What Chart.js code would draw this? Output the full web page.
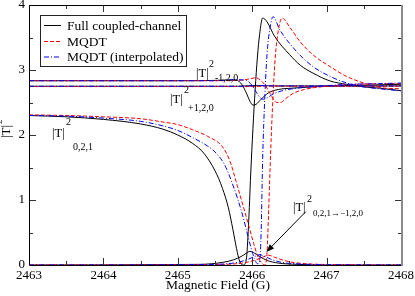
<!DOCTYPE html>
<html><head><meta charset="utf-8">
<script src="https://cdn.jsdelivr.net/npm/chart.js@4"></script>
<style>html,body{margin:0;padding:0;background:#fff}canvas{display:block}</style>
</head><body>
<canvas id="c" width="415" height="296"></canvas>
<script>
// ---- axis ticks ----
const xTicks = [2463, 2464, 2465, 2466, 2467, 2468];
const yTicks = [0, 1, 2, 3, 4];
const xTitle = "Magnetic Field (G)";
const legendLabels = ["Full coupled-channel", "MQDT", "MQDT (interpolated)"];

// ---- |T|^2_{0,2,1} ----
const fieldBlack021 = [2463, 2463.5, 2464, 2464.5, 2464.8, 2465.0, 2465.2, 2465.35, 2465.5, 2465.6, 2465.68, 2465.74, 2465.79, 2465.83, 2465.88, 2465.92, 2465.95, 2465.98, 2466.01, 2466.04, 2466.07, 2466.1, 2466.14, 2466.2, 2466.3, 2466.5, 2466.65, 2466.82, 2467.05, 2467.27, 2467.5, 2467.72, 2468];
const tBlack021     = [2.30, 2.28, 2.24, 2.17, 2.09, 2.00, 1.87, 1.72, 1.45, 1.18, 0.88, 0.55, 0.25, 0.06, 0.00, 0.08, 0.60, 1.40, 2.10, 2.70, 3.20, 3.55, 3.80, 3.74, 3.52, 3.24, 3.07, 2.95, 2.83, 2.78, 2.74, 2.72, 2.68];
const fieldRed021   = [2463, 2463.5, 2464, 2464.5, 2464.8, 2465.0, 2465.2, 2465.4, 2465.6, 2465.7, 2465.8, 2465.9, 2465.95, 2466.02, 2466.08, 2466.13, 2466.17, 2466.2, 2466.22, 2466.25, 2466.28, 2466.31, 2466.35, 2466.4, 2466.51, 2466.64, 2466.82, 2467.05, 2467.27, 2467.5, 2467.72, 2468];
const tRed021       = [2.31, 2.30, 2.28, 2.25, 2.20, 2.16, 2.08, 1.98, 1.82, 1.60, 1.22, 0.82, 0.62, 0.33, 0.12, 0.03, 0.00, 0.20, 0.80, 1.80, 2.60, 3.20, 3.60, 3.80, 3.65, 3.44, 3.23, 3.05, 2.90, 2.80, 2.73, 2.71];
const fieldBlue021  = [2463, 2463.5, 2464, 2464.5, 2464.8, 2465.0, 2465.2, 2465.4, 2465.5, 2465.63, 2465.75, 2465.85, 2465.92, 2465.98, 2466.03, 2466.07, 2466.1, 2466.12, 2466.14, 2466.17, 2466.2, 2466.24, 2466.28, 2466.37, 2466.6, 2466.82, 2467.05, 2467.27, 2467.5, 2467.72, 2468];
const tBlue021      = [2.30, 2.29, 2.26, 2.21, 2.14, 2.07, 1.96, 1.83, 1.74, 1.54, 1.20, 0.85, 0.55, 0.28, 0.10, 0.02, 0.05, 0.50, 1.60, 2.60, 3.25, 3.65, 3.82, 3.62, 3.28, 3.05, 2.90, 2.80, 2.74, 2.71, 2.68];

// ---- |T|^2_{-1,2,0} ----
const fieldBlackM120 = [2463, 2465.0, 2465.5, 2465.75, 2465.8, 2465.86, 2465.92, 2465.97, 2466.01, 2466.05, 2466.12, 2466.22, 2466.35, 2466.53, 2466.8, 2467.2, 2467.6, 2468];
const tBlackM120     = [2.835, 2.835, 2.84, 2.85, 2.84, 2.78, 2.65, 2.52, 2.46, 2.47, 2.55, 2.65, 2.70, 2.72, 2.74, 2.76, 2.77, 2.78];
const fieldRedM120   = [2463, 2465.6, 2465.9, 2466.05, 2466.15, 2466.22, 2466.28, 2466.33, 2466.38, 2466.45, 2466.55, 2466.7, 2467.0, 2467.4, 2467.8, 2468];
const tRedM120       = [2.835, 2.835, 2.85, 2.88, 2.80, 2.68, 2.56, 2.50, 2.50, 2.56, 2.64, 2.70, 2.75, 2.78, 2.79, 2.79];
const fieldBlueM120  = [2463, 2465.5, 2465.8, 2465.92, 2466.0, 2466.06, 2466.11, 2466.15, 2466.2, 2466.28, 2466.4, 2466.6, 2466.9, 2467.3, 2467.7, 2468];
const tBlueM120      = [2.835, 2.835, 2.85, 2.84, 2.76, 2.65, 2.57, 2.55, 2.57, 2.63, 2.68, 2.72, 2.75, 2.78, 2.79, 2.80];

// ---- |T|^2_{+1,2,0} ----
const fieldBlackP120 = [2463, 2465.8, 2466.0, 2466.3, 2467, 2468];
const tBlackP120     = [2.75, 2.75, 2.76, 2.755, 2.755, 2.755];
const fieldRedP120   = [2463, 2466.0, 2466.2, 2466.5, 2467, 2468];
const tRedP120       = [2.745, 2.745, 2.755, 2.75, 2.75, 2.75];
const fieldBlueP120  = [2463, 2465.9, 2466.1, 2466.4, 2467, 2468];
const tBlueP120      = [2.75, 2.75, 2.76, 2.755, 2.755, 2.755];

// ---- |T|^2_{0,2,1 -> -1,2,0} ----
const fieldBlackX = [2463, 2465.3, 2465.6, 2465.75, 2465.85, 2465.92, 2465.97, 2466.02, 2466.1, 2466.2, 2466.35, 2466.6, 2467, 2468];
const tBlackX     = [0, 0.01, 0.04, 0.08, 0.13, 0.18, 0.21, 0.19, 0.13, 0.07, 0.03, 0.01, 0.0, 0];
const fieldRedX   = [2463, 2465.6, 2465.9, 2466.05, 2466.14, 2466.22, 2466.3, 2466.4, 2466.55, 2466.8, 2467.2, 2468];
const tRedX       = [0, 0.01, 0.035, 0.08, 0.12, 0.15, 0.12, 0.08, 0.04, 0.015, 0.005, 0];
const fieldBlueX  = [2463, 2465.5, 2465.8, 2465.95, 2466.03, 2466.1, 2466.17, 2466.27, 2466.4, 2466.65, 2467, 2468];
const tBlueX      = [0, 0.01, 0.04, 0.09, 0.13, 0.16, 0.13, 0.08, 0.04, 0.015, 0.005, 0];

// ---- annotation labels ----
const labelSubs = ["-1,2,0", "+1,2,0", "0,2,1", "0,2,1\u2192\u22121,2,0"];
const labelAt   = [[2465.245, 2.892], [2464.895, 2.492], [2463.309, 1.969], [2466.548, 0.831]];
const arrowFrom = [2466.72, 0.82];
const arrowTo   = [2466.19, 0.20];

const SERIF = '"Liberation Serif", "Times New Roman", serif';
const styles = {
  black: {color: '#000000', dash: []},
  red:   {color: '#ff0000', dash: [4, 2]},
  blue:  {color: '#0000ff', dash: [5, 2, 1, 2]}
};
function ds(xs, ys, st) {
  return {
    data: xs.map((v, i) => ({x: v, y: ys[i]})),
    borderColor: styles[st].color,
    borderDash: styles[st].dash,
    borderWidth: 1,
    pointRadius: 0,
    fill: false,
    cubicInterpolationMode: 'monotone'
  };
}

const datasets = [
  ds(fieldBlackP120, tBlackP120, 'black'),
  ds(fieldBlackM120, tBlackM120, 'black'),
  ds(fieldBlack021, tBlack021, 'black'),
  ds(fieldBlackX, tBlackX, 'black'),
  ds(fieldRedP120, tRedP120, 'red'),
  ds(fieldRedM120, tRedM120, 'red'),
  ds(fieldRed021, tRed021, 'red'),
  ds(fieldRedX, tRedX, 'red'),
  ds(fieldBlueP120, tBlueP120, 'blue'),
  ds(fieldBlueM120, tBlueM120, 'blue'),
  ds(fieldBlue021, tBlue021, 'blue'),
  ds(fieldBlueX, tBlueX, 'blue')
];
datasets.forEach((d, i) => d.order = datasets.length - i);

const labelOffsets = [
  {sup: [13, -10], sub: [19, 4], subSize: 10},
  {sup: [14, -10], sub: [18, 8], subSize: 10},
  {sup: [14, -12], sub: [21, 13], subSize: 10},
  {sup: [14, -9], sub: [20, 5], subSize: 9}
];

const deco = {
  id: 'deco',
  afterDraw(chart) {
    const {ctx, chartArea: a, scales: {x, y}} = chart;
    ctx.save();
    // ticks
    ctx.strokeStyle = '#333';
    ctx.lineWidth = 1;
    ctx.beginPath();
    for (let v = 2463.5; v < 2468; v += 0.5) {
      const px = Math.round(x.getPixelForValue(v)) + 0.5;
      const L = Number.isInteger(v) ? 7 : 4;
      ctx.moveTo(px, a.bottom); ctx.lineTo(px, a.bottom - L);
      ctx.moveTo(px, a.top); ctx.lineTo(px, a.top + L);
    }
    for (let v = 0.5; v < 4; v += 0.5) {
      const py = Math.round(y.getPixelForValue(v)) + 0.5;
      const L = Number.isInteger(v) ? 7 : 4;
      ctx.moveTo(a.left, py); ctx.lineTo(a.left + L, py);
      ctx.moveTo(a.right, py); ctx.lineTo(a.right - L + 1, py);
    }
    ctx.stroke();
    // frame
    ctx.strokeStyle = '#000';
    ctx.beginPath();
    ctx.moveTo(a.left + 0.5, a.top); ctx.lineTo(a.left + 0.5, a.bottom + 0.5);
    ctx.lineTo(a.right, a.bottom + 0.5);
    ctx.moveTo(a.left, a.top + 0.5); ctx.lineTo(a.right, a.top + 0.5);
    ctx.stroke();
    ctx.strokeStyle = '#8a8a8a';
    ctx.lineWidth = 2;
    ctx.beginPath();
    ctx.moveTo(a.right + 1, a.top); ctx.lineTo(a.right + 1, a.bottom + 1);
    ctx.stroke();

    // legend
    const bx = 40, by = 15, bw = 146, bh = 51;
    ctx.fillStyle = '#fff';
    ctx.fillRect(bx, by, bw, bh);
    ctx.strokeStyle = '#222';
    ctx.lineWidth = 1;
    ctx.strokeRect(bx + 0.5, by + 0.5, bw, bh);
    const keys = ['black', 'red', 'blue'];
    const rows = [25, 41, 56.5];
    ctx.font = '13.5px ' + SERIF;
    ctx.textBaseline = 'middle';
    keys.forEach((k, i) => {
      ctx.strokeStyle = styles[k].color;
      ctx.setLineDash(styles[k].dash);
      ctx.beginPath();
      ctx.moveTo(44, rows[i] + 0.5); ctx.lineTo(61, rows[i] + 0.5);
      ctx.stroke();
      ctx.setLineDash([]);
      ctx.fillStyle = '#000';
      ctx.fillText(legendLabels[i], 67, rows[i] + 1);
    });

    // annotation labels
    ctx.textBaseline = 'alphabetic';
    ctx.fillStyle = '#000';
    labelSubs.forEach((s, i) => {
      const px = x.getPixelForValue(labelAt[i][0]);
      const py = y.getPixelForValue(labelAt[i][1]);
      const o = labelOffsets[i];
      ctx.font = '12.5px ' + SERIF;
      ctx.fillText('|T|', px, py);
      ctx.font = '10px ' + SERIF;
      ctx.fillText('2', px + o.sup[0], py + o.sup[1]);
      ctx.font = o.subSize + 'px ' + SERIF;
      ctx.fillText(s, px + o.sub[0], py + o.sub[1]);
    });

    // arrow
    const x1 = x.getPixelForValue(arrowFrom[0]), y1 = y.getPixelForValue(arrowFrom[1]);
    const x2 = x.getPixelForValue(arrowTo[0]), y2 = y.getPixelForValue(arrowTo[1]);
    const ang = Math.atan2(y2 - y1, x2 - x1);
    ctx.strokeStyle = '#000';
    ctx.lineWidth = 1;
    ctx.beginPath();
    ctx.moveTo(x1, y1);
    ctx.lineTo(x2 - 6 * Math.cos(ang), y2 - 6 * Math.sin(ang));
    ctx.stroke();
    ctx.beginPath();
    ctx.moveTo(x2, y2);
    ctx.lineTo(x2 - 8 * Math.cos(ang) + 3 * Math.sin(ang), y2 - 8 * Math.sin(ang) - 3 * Math.cos(ang));
    ctx.lineTo(x2 - 8 * Math.cos(ang) - 3 * Math.sin(ang), y2 - 8 * Math.sin(ang) + 3 * Math.cos(ang));
    ctx.closePath();
    ctx.fillStyle = '#000';
    ctx.fill();

    // axis titles
    ctx.font = '13.5px ' + SERIF;
    ctx.textAlign = 'center';
    ctx.fillText(xTitle, (a.left + a.right) / 2 + 3, 289);
    ctx.textAlign = 'left';
    ctx.save();
    ctx.translate(10, 138);
    ctx.rotate(-Math.PI / 2);
    ctx.font = '13px ' + SERIF;
    ctx.fillText('|T|', 0, 0);
    ctx.font = '9px ' + SERIF;
    ctx.fillText('2', 14, -8);
    ctx.restore();
    ctx.restore();
  }
};

new Chart(document.getElementById('c'), {
  type: 'line',
  data: {datasets},
  options: {
    responsive: false,
    animation: false,
    devicePixelRatio: 1,
    layout: {padding: {left: 0, right: 14, top: 5, bottom: 0}},
    plugins: {legend: {display: false}, tooltip: {enabled: false}},
    scales: {
      x: {
        type: 'linear', min: 2463, max: 2468,
        afterBuildTicks: s => { s.ticks = xTicks.map(v => ({value: v})); },
        afterFit: s => { s.height = 31; s.paddingLeft = 0; s.paddingRight = 0; },
        grid: {display: false, drawTicks: false},
        border: {display: false},
        ticks: {font: {family: SERIF, size: 13}, color: '#000', padding: 3, maxRotation: 0, autoSkip: false, callback: v => String(v)}
      },
      y: {
        type: 'linear', min: 0, max: 4,
        afterBuildTicks: s => { s.ticks = yTicks.map(v => ({value: v})); },
        afterFit: s => { s.width = 29; s.paddingTop = 0; s.paddingBottom = 0; },
        grid: {display: false, drawTicks: false},
        border: {display: false},
        ticks: {font: {family: SERIF, size: 13}, color: '#000', padding: 4, autoSkip: false, callback: v => String(v)}
      }
    }
  },
  plugins: [deco]
});
</script>
</body></html>
